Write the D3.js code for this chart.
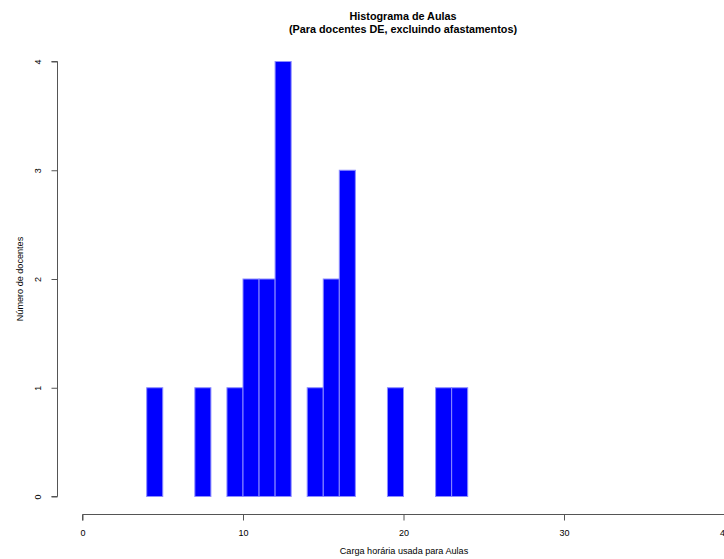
<!DOCTYPE html>
<html><head><meta charset="utf-8">
<script src="https://cdn.jsdelivr.net/npm/d3@7"></script>
<style>body{margin:0;background:#fff}svg{display:block}text{font-family:"Liberation Sans",Arial,sans-serif}</style>
</head><body>
<script>
const binStart = [4, 7, 9, 10, 11, 12, 14, 15, 16, 19, 22, 23];
const counts   = [1, 1, 1, 2, 2, 4, 1, 2, 3, 1, 1, 1];
const binWidth = 1;
const xTicks = [0, 10, 20, 30, 40];
const yTicks = [0, 1, 2, 3, 4];
const titleLines = ["Histograma de Aulas", "(Para docentes DE, excluindo afastamentos)"];
const xLabel = "Carga horária usada para Aulas";
const yLabel = "Número de docentes";

const W = 724, H = 559;
const svg = d3.select("body").append("svg").attr("width", W).attr("height", H);
const x = d3.scaleLinear().domain([0, 40]).range([82.5, 724.5]);
const y = d3.scaleLinear().domain([0, 4]).range([496.5, 61.5]);

svg.append("g").selectAll("rect").data(binStart).join("rect")
  .attr("x", (d) => x(d))
  .attr("width", (d) => x(d + binWidth) - x(d))
  .attr("y", (d, i) => y(counts[i]))
  .attr("height", (d, i) => y(0) - y(counts[i]))
  .attr("fill", "#0000ff").attr("stroke", "#8c8cff").attr("stroke-width", 1);

const axisColor = "#555";
// x axis
const gx = svg.append("g").attr("transform", "translate(0,514.5)")
  .call(d3.axisBottom(x).tickValues(xTicks).tickSize(6).tickPadding(9).tickFormat(d3.format("d")));
gx.select(".domain").attr("d", `M${x(0)},6V0H${x(40)}V6`);
// y axis
const gy = svg.append("g").attr("transform", "translate(57.5,0)")
  .call(d3.axisLeft(y).tickValues(yTicks).tickSize(6).tickFormat(d3.format("d")));
gy.select(".domain").attr("d", `M-6,${y(0)}H0V${y(4)}H-6`);
gy.selectAll(".tick text").attr("transform", "rotate(-90)").attr("x", 0).attr("y", -17)
  .attr("text-anchor", "middle").attr("dy", "0");
[gx, gy].forEach(g => {
  g.selectAll(".domain, line").attr("stroke", axisColor);
  g.selectAll("text").attr("fill", "#000").attr("font-size", 9)
   .attr("font-family", '"Liberation Sans",Arial,sans-serif');
});

svg.append("text").attr("x", 404).attr("y", 554).attr("text-anchor", "middle")
  .attr("font-size", 9.1).text(xLabel);
svg.append("text").attr("transform", "translate(23,279) rotate(-90)").attr("text-anchor", "middle")
  .attr("font-size", 9.1).text(yLabel);
svg.append("text").attr("x", 403).attr("y", 20).attr("text-anchor", "middle")
  .attr("font-size", 10.8).attr("font-weight", "bold").text(titleLines[0]);
svg.append("text").attr("x", 403).attr("y", 33).attr("text-anchor", "middle")
  .attr("font-size", 10.8).attr("font-weight", "bold").text(titleLines[1]);
</script>
</body></html>
